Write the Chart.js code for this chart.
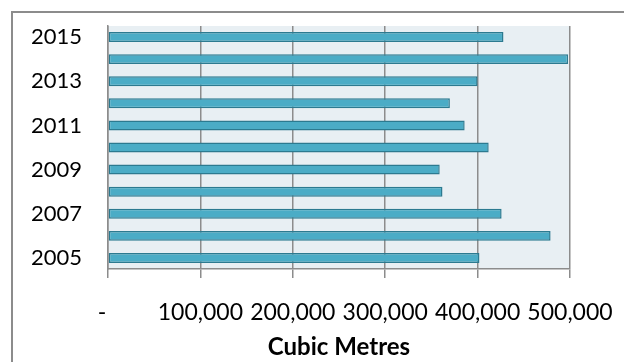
<!DOCTYPE html>
<html>
<head>
<meta charset="utf-8">
<script src="https://cdn.jsdelivr.net/npm/chart.js@4"></script>
<style>
  html, body { margin: 0; padding: 0; background: #fff; overflow: hidden; }
  #wrap { position: relative; width: 624px; height: 362px; }
  #frame { position: absolute; left: 11px; top: 11px; width: 640px; height: 380px; border: 2px solid #8c8c8c; box-sizing: border-box; }
  canvas { position: absolute; left: 0; top: 0; }
</style>
</head>
<body>
<div id="wrap">
  <div id="frame"></div>
  <canvas id="volumeChart" width="624" height="362"></canvas>
</div>
<script>
const years = ['2005', '2006', '2007', '2008', '2009', '2010', '2011', '2012', '2013', '2014', '2015'];
const cubicMetres = [402000, 479000, 426000, 362000, 359000, 412000, 386000, 370000, 400000, 498000, 428000];
const xTicks = [0, 100000, 200000, 300000, 400000, 500000];
const axisTitle = 'Cubic Metres';

// light plot-area fill, like the Excel chart
const plotBackground = {
    id: 'plotBackground',
    beforeDraw: chart => {
        const { ctx, chartArea } = chart;
        ctx.save();
        ctx.fillStyle = '#e8eff3';
        ctx.fillRect(chartArea.left, chartArea.top, chartArea.right - chartArea.left, chartArea.bottom - chartArea.top);
        ctx.restore();
    }
};

const family = 'Lato, "Open Sans", sans-serif';

const ctx = document.getElementById('volumeChart').getContext('2d');

new Chart(ctx, {
    type: 'bar',
    data: {
        labels: years,
        datasets: [{
            label: axisTitle,
            data: cubicMetres,
            backgroundColor: '#4bacc6',
            borderColor: '#2c7a90',
            borderWidth: 1.5,
            borderSkipped: false,
            barPercentage: 0.45,
            categoryPercentage: 1
        }]
    },
    options: {
        indexAxis: 'y',
        responsive: false,
        animation: false,
        layout: { padding: { top: 26, right: 54, left: 0, bottom: 0 } },
        plugins: {
            legend: { display: false },
            tooltip: { enabled: false }
        },
        scales: {
            x: {
                min: 0,
                max: 500000,
                afterBuildTicks: scale => {
                    scale.ticks = xTicks.map(v => ({ value: v }));
                },
                afterFit: scale => { scale.height = 93; },
                ticks: {
                    color: '#000',
                    font: { family: family, size: 23, lineHeight: 2.7 },
                    padding: 4,
                    maxRotation: 0,
                    callback: v => v === 0 ? '-  ' : v.toLocaleString('en-US')
                },
                grid: { color: '#8c8c8c', lineWidth: 1.5, tickLength: 9, drawOnChartArea: true },
                border: { display: true, color: '#8c8c8c', width: 1.5 },
                title: {
                    display: true,
                    text: axisTitle,
                    color: '#000',
                    font: { family: family, size: 24, weight: 'bold' },
                    padding: { top: 0, bottom: 0 }
                }
            },
            y: {
                reverse: true,
                afterFit: scale => { scale.width = 108; },
                ticks: {
                    color: '#000',
                    font: { family: family, size: 22 },
                    padding: 0,
                    autoSkip: false,
                    callback: (v, i) => i % 2 === 0 ? years[i] : ''
                },
                grid: { display: false, drawTicks: true, tickLength: 26 },
                border: { display: true, color: '#8c8c8c', width: 1.5 }
            }
        }
    },
    plugins: [plotBackground]
});
</script>
</body>
</html>
